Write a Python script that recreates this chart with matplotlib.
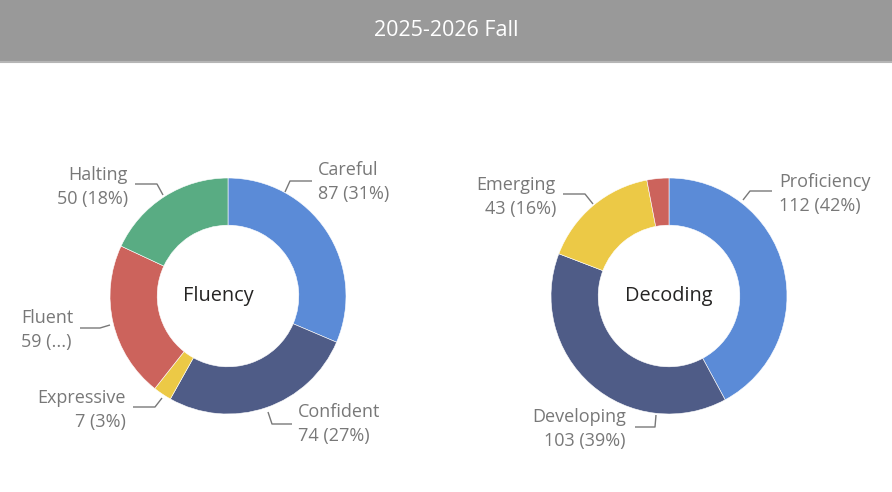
import matplotlib.pyplot as plt
from matplotlib.patches import Rectangle

plt.rcParams['font.family'] = ['Open Sans', 'DejaVu Sans']

# data
fluency_labels = ['Careful', 'Confident', 'Expressive', 'Fluent', 'Halting']
fluency_values = [87, 74, 7, 59, 50]
decoding_labels = ['Proficiency', 'Developing', 'Emerging', 'Beginning']
decoding_values = [112, 103, 43, 8]

colors_fluency = ['#5B8BD7', '#4F5C87', '#ECC946', '#CC635C', '#59AC83']
colors_decoding = ['#5B8BD7', '#4F5C87', '#ECC946', '#CC635C']

W, H = 892, 492
GRAY = '#787878'

fig = plt.figure(figsize=(W / 100, H / 100), dpi=100)
ax = fig.add_axes([0, 0, 1, 1])


def py(y):
    # pixel row -> data y (y goes up)
    return H - y


def donut(cx, cy, values, colors, title, title_dx, labels, layout, truncated=()):
    total = sum(values)
    ax.pie(values, colors=colors, startangle=90, counterclock=False,
           center=(cx, py(cy)), radius=118,
           wedgeprops=dict(width=118 * 0.4, edgecolor='white', linewidth=0.4))
    ax.text(cx + title_dx, py(cy), title, ha='center', va='center',
            fontsize=14.3, color='#252423')
    for i, (lab, val) in enumerate(zip(labels, values)):
        if layout[i] is None:
            continue
        pts, tx, ty, ha = layout[i]
        xs = [cx + p[0] for p in pts]
        ys = [py(cy + p[1]) for p in pts]
        ax.plot(xs, ys, color=GRAY, lw=1, solid_capstyle='butt')
        pct = '(...)' if lab in truncated else '(%d%%)' % round(100 * val / total)
        ax.text(cx + tx, py(cy + ty), lab + '\n' + '%d %s' % (val, pct),
                ha=ha, va='center', fontsize=13, color=GRAY, linespacing=1.45)


# label layout: leader points relative to donut centre, text anchor, alignment
fluency_layout = [
    ([(57, -104), (62, -115), (84, -115)], 90, -114, 'left'),
    ([(40, 116), (44, 128), (64, 128)], 70, 128, 'left'),
    ([(-66, 102), (-73, 111), (-95, 111)], -102, 114, 'right'),
    ([(-118, 29), (-128, 32), (-148, 32)], -207, 34, 'left'),
    ([(-65, -101), (-71, -112), (-93, -112)], -100, -109, 'right'),
]
decoding_layout = [
    ([(74, -96), (81, -105), (103, -105)], 110, -102, 'left'),
    ([(-13, 119), (-14, 131), (-34, 131)], -43, 133, 'right'),
    ([(-76, -92), (-84, -102), (-106, -102)], -113, -99, 'right'),
    None,
]

donut(228, 296, fluency_values, colors_fluency, 'Fluency', -10,
      fluency_labels, fluency_layout, truncated=('Fluent',))
donut(669, 296, decoding_values, colors_decoding, 'Decoding', 0,
      decoding_labels, decoding_layout)

# header bar
ax.add_patch(Rectangle((0, py(62)), W, 62, facecolor='#999999', edgecolor='none'))
ax.plot([0, W], [py(62), py(62)], color='#B5B5B5', lw=1.5)
ax.text(W / 2, py(30), '2025-2026 Fall', ha='center', va='center',
        fontsize=15.5, color='white')

ax.set_xlim(0, W)
ax.set_ylim(0, H)
ax.set_aspect('auto')
ax.axis('off')

fig.savefig('out.png', dpi=100, facecolor='white')
